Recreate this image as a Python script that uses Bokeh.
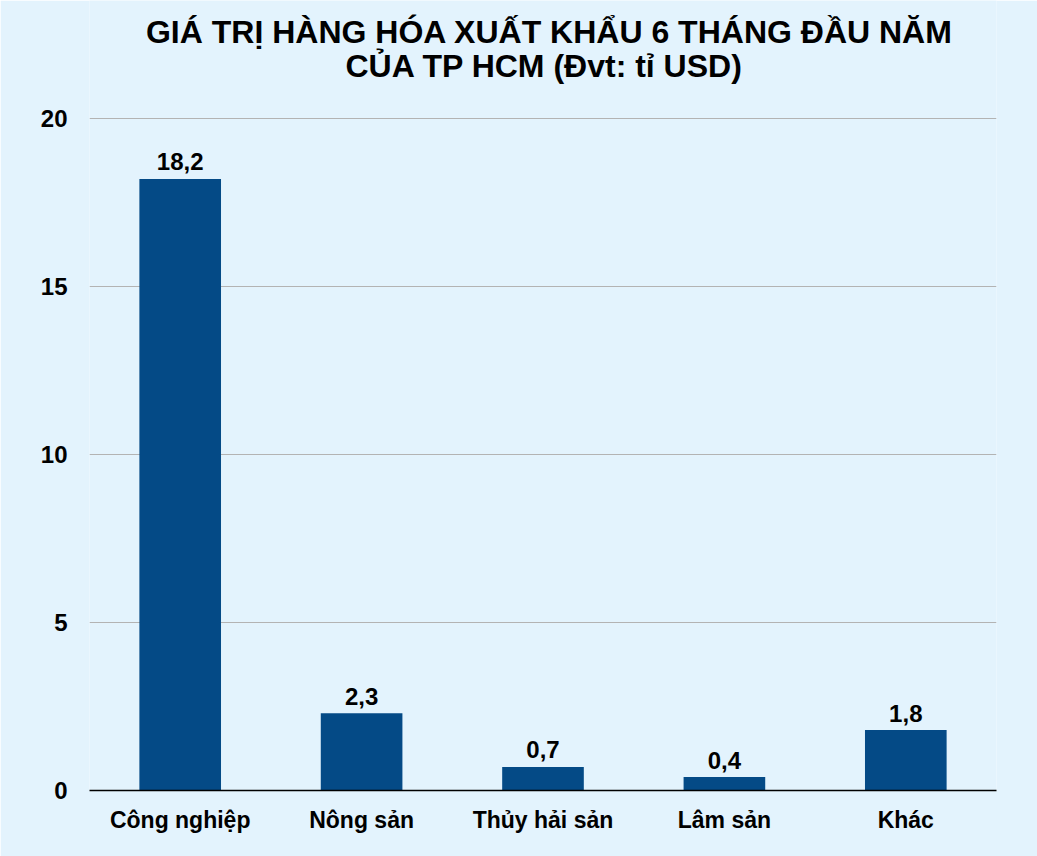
from bokeh.plotting import figure
from bokeh.models import FixedTicker, ColumnDataSource
from bokeh.embed import file_html
from bokeh.resources import INLINE
from bokeh.core.properties import value

categories = ["Công nghiệp", "Nông sản", "Thủy hải sản", "Lâm sản", "Khác"]
values = [18.2, 2.3, 0.7, 0.4, 1.8]
value_labels = ["18,2", "2,3", "0,7", "0,4", "1,8"]
y_ticks = [0, 5, 10, 15, 20]
title_lines = ["GIÁ TRỊ HÀNG HÓA XUẤT KHẨU 6 THÁNG ĐẦU NĂM", "CỦA TP HCM (Đvt: tỉ USD)"]

BG = "#E3F3FD"
BAR = "#044A86"
FONT = "Liberation Sans"

# frame spans the whole top area so the two title lines can sit inside it
Y_TOP = 790 / 33.6

src = ColumnDataSource(dict(cat=categories, val=values, lab=value_labels))

p = figure(x_range=categories, y_range=(0, Y_TOP), width=1037, height=856,
           output_backend="svg", toolbar_location=None,
           background_fill_color=BG, border_fill_color=BG,
           min_border_left=89, min_border_right=41, min_border_bottom=66, min_border_top=0)
p.x_range.range_padding = 0
p.outline_line_color = None

mid_cat = categories[len(categories) // 2]
for txt, dy, dx in zip(title_lines, [31, 65], [6.5, 1.5]):
    p.text(x=[mid_cat], y=[Y_TOP], text=[txt], x_offset=dx, y_offset=dy,
           text_align="center", text_baseline="middle", text_font=value(FONT),
           text_font_size="32px", text_font_style="bold", text_color="#000000")

p.vbar(x="cat", top="val", width=0.45, source=src, fill_color=BAR, line_color=None)
p.text(x="cat", y="val", text="lab", source=src, text_align="center", text_baseline="alphabetic",
       y_offset=-17, text_font=value(FONT), text_font_size="24px", text_font_style="bold",
       text_color="#000000")

p.xgrid.grid_line_color = None
p.ygrid.grid_line_color = "#B3B3B3"
p.ygrid.grid_line_width = 1
p.yaxis.ticker = FixedTicker(ticks=y_ticks)
p.yaxis.axis_line_color = None
p.yaxis.major_tick_line_color = None
p.yaxis.minor_tick_line_color = None
p.yaxis.major_tick_out = 0
p.yaxis.major_label_standoff = 22
p.yaxis.major_label_text_font = FONT
p.yaxis.major_label_text_font_size = "24px"
p.yaxis.major_label_text_font_style = "bold"
p.yaxis.major_label_text_color = "#000000"

p.xaxis.axis_line_color = "#000000"
p.xaxis.axis_line_width = 1.5
p.xaxis.major_tick_line_color = None
p.xaxis.major_tick_out = 0
p.xaxis.major_label_standoff = 16
p.xaxis.major_label_text_font = FONT
p.xaxis.major_label_text_font_size = "23px"
p.xaxis.major_label_text_font_style = "bold"
p.xaxis.major_label_text_color = "#000000"

open("out.html", "w").write(file_html(p, INLINE))
